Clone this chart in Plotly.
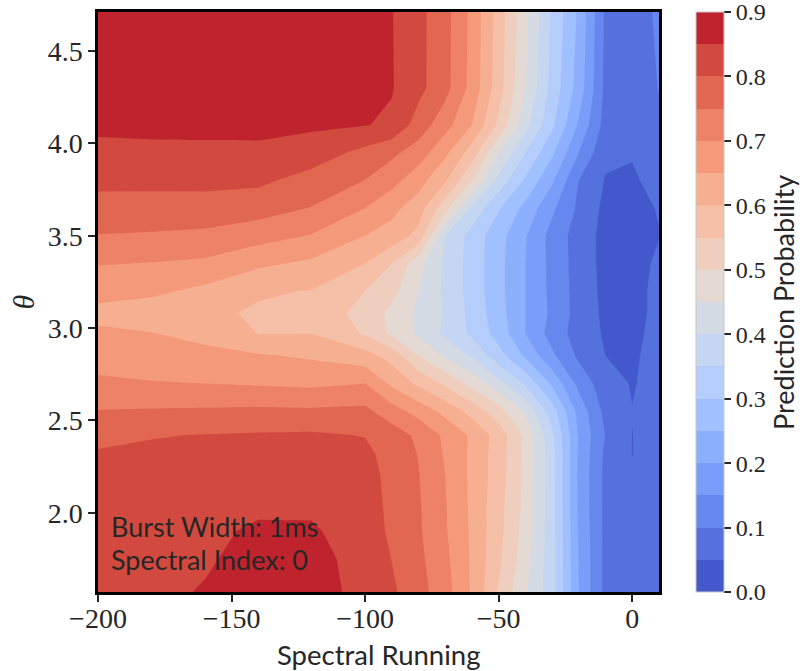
import numpy as np
import plotly.graph_objects as go

# Grid of the classifier scan
spectral_running = [-200, -180, -160, -140, -120, -100, -90, -80, -70, -60, -50, -40, -30, -20, -10, 0, 10]
theta = [1.571, 1.75, 1.9, 2.05, 2.2, 2.32, 2.42, 2.55, 2.7, 2.85, 2.97, 3.08,
         3.2, 3.35, 3.5, 3.65, 3.8, 3.95, 4.1, 4.3, 4.712]

# Prediction probability, one list per theta row (columns follow spectral_running)
p_1571 = [0.830, 0.840, 0.853, 0.870, 0.870, 0.835, 0.808, 0.769, 0.720, 0.644, 0.545, 0.456, 0.370, 0.200, 0.085, 0.065, 0.070]
p_1750 = [0.828, 0.837, 0.845, 0.865, 0.865, 0.833, 0.799, 0.762, 0.712, 0.643, 0.560, 0.470, 0.370, 0.198, 0.086, 0.064, 0.070]
p_1900 = [0.826, 0.833, 0.840, 0.857, 0.855, 0.830, 0.790, 0.757, 0.705, 0.642, 0.565, 0.480, 0.370, 0.195, 0.087, 0.062, 0.070]
p_2050 = [0.822, 0.827, 0.833, 0.840, 0.842, 0.825, 0.787, 0.755, 0.703, 0.640, 0.568, 0.485, 0.370, 0.190, 0.087, 0.058, 0.070]
p_2200 = [0.815, 0.820, 0.825, 0.825, 0.830, 0.820, 0.785, 0.752, 0.700, 0.639, 0.574, 0.488, 0.370, 0.190, 0.088, 0.054, 0.069]
p_2320 = [0.805, 0.810, 0.815, 0.815, 0.820, 0.812, 0.780, 0.748, 0.695, 0.640, 0.574, 0.489, 0.370, 0.192, 0.090, 0.0495, 0.068]
p_2420 = [0.785, 0.797, 0.802, 0.805, 0.807, 0.798, 0.775, 0.740, 0.690, 0.642, 0.579, 0.490, 0.360, 0.195, 0.098, 0.0495, 0.068]
p_2550 = [0.752, 0.755, 0.757, 0.760, 0.758, 0.762, 0.722, 0.681, 0.635, 0.582, 0.521, 0.440, 0.325, 0.183, 0.085, 0.051, 0.068]
p_2700 = [0.709, 0.703, 0.700, 0.695, 0.690, 0.700, 0.640, 0.590, 0.540, 0.483, 0.417, 0.342, 0.240, 0.135, 0.070, 0.047, 0.065]
p_2850 = [0.680, 0.674, 0.665, 0.655, 0.643, 0.620, 0.580, 0.500, 0.440, 0.393, 0.320, 0.242, 0.160, 0.090, 0.050, 0.045, 0.062]
p_2970 = [0.660, 0.652, 0.635, 0.599, 0.600, 0.545, 0.490, 0.440, 0.390, 0.340, 0.280, 0.200, 0.130, 0.078, 0.044, 0.042, 0.060]
p_3080 = [0.635, 0.625, 0.610, 0.594, 0.578, 0.535, 0.485, 0.440, 0.395, 0.335, 0.270, 0.200, 0.140, 0.080, 0.040, 0.040, 0.058]
p_3200 = [0.668, 0.660, 0.638, 0.605, 0.598, 0.550, 0.515, 0.450, 0.390, 0.330, 0.265, 0.200, 0.137, 0.080, 0.037, 0.040, 0.058]
p_3350 = [0.703, 0.698, 0.690, 0.660, 0.640, 0.600, 0.550, 0.467, 0.390, 0.330, 0.265, 0.200, 0.135, 0.078, 0.035, 0.037, 0.056]
p_3500 = [0.748, 0.745, 0.740, 0.720, 0.697, 0.650, 0.630, 0.585, 0.400, 0.330, 0.269, 0.204, 0.133, 0.077, 0.035, 0.038, 0.049]
p_3650 = [0.782, 0.780, 0.778, 0.772, 0.748, 0.700, 0.665, 0.624, 0.517, 0.390, 0.305, 0.235, 0.160, 0.090, 0.038, 0.040, 0.052]
p_3800 = [0.812, 0.813, 0.815, 0.810, 0.781, 0.749, 0.717, 0.670, 0.607, 0.500, 0.383, 0.292, 0.208, 0.100, 0.047, 0.046, 0.060]
p_3950 = [0.837, 0.840, 0.840, 0.840, 0.826, 0.786, 0.761, 0.726, 0.661, 0.575, 0.450, 0.350, 0.259, 0.150, 0.060, 0.052, 0.075]
p_4100 = [0.860, 0.861, 0.862, 0.863, 0.858, 0.852, 0.842, 0.778, 0.719, 0.650, 0.538, 0.417, 0.311, 0.193, 0.080, 0.058, 0.090]
p_4300 = [0.876, 0.877, 0.877, 0.877, 0.875, 0.870, 0.853, 0.814, 0.766, 0.683, 0.572, 0.450, 0.333, 0.228, 0.088, 0.068, 0.102]
p_4712 = [0.885, 0.885, 0.885, 0.885, 0.885, 0.878, 0.852, 0.814, 0.767, 0.687, 0.577, 0.462, 0.343, 0.241, 0.090, 0.070, 0.110]

prob = [p_1571, p_1750, p_1900, p_2050, p_2200, p_2320, p_2420, p_2550, p_2700, p_2850,
        p_2970, p_3080, p_3200, p_3350, p_3500, p_3650, p_3800, p_3950, p_4100, p_4300, p_4712]

cbar_ticks = [0.0, 0.1, 0.2, 0.3, 0.4, 0.5, 0.6, 0.7, 0.8, 0.9]
x_ticks = [-200, -150, -100, -50, 0]
y_ticks = [2.0, 2.5, 3.0, 3.5, 4.0, 4.5]
info_lines = ["Burst Width: 1ms", "Spectral Index: 0"]

# coolwarm diverging map (control points at 33 evenly spaced positions)
CW_R = [0.2298, 0.2662, 0.3039, 0.3428, 0.3830, 0.4244, 0.4667, 0.5096, 0.5530, 0.5963, 0.6392,
        0.6813, 0.7222, 0.7615, 0.7987, 0.8335, 0.8654, 0.8978, 0.9241, 0.9445, 0.9589, 0.9673,
        0.9700, 0.9668, 0.9580, 0.9437, 0.9239, 0.8990, 0.8692, 0.8346, 0.7956, 0.7525, 0.7057]
CW_G = [0.2987, 0.3531, 0.4065, 0.4588, 0.5094, 0.5581, 0.6046, 0.6483, 0.6889, 0.7261, 0.7596,
        0.7890, 0.8140, 0.8343, 0.8498, 0.8602, 0.8654, 0.8489, 0.8274, 0.8009, 0.7698, 0.7341,
        0.6943, 0.6504, 0.6028, 0.5518, 0.4973, 0.4396, 0.3783, 0.3129, 0.2413, 0.1572, 0.0156]
CW_B = [0.7537, 0.8015, 0.8450, 0.8837, 0.9174, 0.9456, 0.9682, 0.9848, 0.9954, 0.9998, 0.9982,
        0.9904, 0.9766, 0.9569, 0.9317, 0.9011, 0.8654, 0.8209, 0.7745, 0.7267, 0.6780, 0.6288,
        0.5794, 0.5303, 0.4818, 0.4342, 0.3880, 0.3432, 0.3003, 0.2593, 0.2205, 0.1841, 0.1502]


def coolwarm(t):
    pos = np.linspace(0.0, 1.0, len(CW_R))
    r = np.interp(t, pos, CW_R)
    g = np.interp(t, pos, CW_G)
    b = np.interp(t, pos, CW_B)
    return "rgb({:d},{:d},{:d})".format(int(round(r * 255)), int(round(g * 255)), int(round(b * 255)))


levels = np.round(np.arange(0.0, 0.9001, 0.05), 4)
step = 0.05
mids = (levels[:-1] + levels[1:]) / 2
band_colors = [coolwarm(m / levels[-1]) for m in mids]
n_bands = len(band_colors)

# contour fill colours: band j is painted with colorscale position j/(n_bands-1)
contour_scale = [[j / (n_bands - 1), c] for j, c in enumerate(band_colors)]

# stepped scale for the colour bar (0 .. 0.9)
bar_scale = []
for j, c in enumerate(band_colors):
    bar_scale.append([j / n_bands, c])
    bar_scale.append([(j + 1) / n_bands, c])

TXT = "#262626"
SANS = "Lato"
SERIF = "Liberation Serif"

fig = go.Figure()
fig.add_trace(go.Contour(
    x=spectral_running, y=theta, z=prob,
    autocontour=False,
    contours=dict(start=levels[1], end=levels[-2], size=step, coloring="fill", showlines=False),
    line=dict(width=0, smoothing=0),
    colorscale=contour_scale,
    showscale=False,
    hoverinfo="skip",
))

fig.add_trace(go.Scatter(
    x=[spectral_running[0]], y=[theta[0]], mode="markers",
    marker=dict(
        size=1, opacity=0, color=[0.45], colorscale=bar_scale, cmin=levels[0], cmax=levels[-1],
        showscale=True,
        colorbar=dict(
            x=1.0660, xanchor="left", xpad=0, y=0.5, yanchor="middle", ypad=0,
            len=1, lenmode="fraction", thickness=28, thicknessmode="pixels",
            outlinewidth=1, outlinecolor="#c8c8c8",
            tickvals=cbar_ticks, ticktext=["{:.1f}".format(v) for v in cbar_ticks],
            ticks="outside", ticklen=7, tickwidth=1.5, tickcolor=TXT,
            ticklabeloverflow="allow",
            tickfont=dict(family=SERIF, size=24, color=TXT),
        ),
    ),
    hoverinfo="skip", showlegend=False,
))

# colour bar label, set vertically beside the tick labels
fig.add_annotation(
    x=1.2210, y=0.5, xref="paper", yref="paper", xanchor="center", yanchor="middle",
    text="Prediction Probability", textangle=-90, showarrow=False,
    font=dict(family=SANS, size=27, color=TXT),
)

# x-axis label below the tick labels
fig.add_annotation(
    x=0.5, y=-0.107, xref="paper", yref="paper", xanchor="center", yanchor="middle",
    text="Spectral Running", showarrow=False,
    font=dict(family=SANS, size=27.5, color=TXT),
)

# two-line caption in the lower-left corner of the panel
for line_text, ypos in zip(info_lines, [0.113, 0.056]):
    fig.add_annotation(
        x=0.019, y=ypos, xref="paper", yref="paper", xanchor="left", yanchor="middle",
        text=line_text, align="left", showarrow=False,
        font=dict(family=SANS, size=27, color=TXT),
    )

axis_common = dict(
    ticks="outside", ticklen=7, tickwidth=2, tickcolor=TXT,
    showline=True, linewidth=2.5, linecolor="black", mirror=True,
    showgrid=False, zeroline=False,
    tickfont=dict(family=SERIF, size=28, color=TXT),
)

fig.update_layout(
    width=800, height=671,
    margin=dict(l=98, r=141, t=12, b=79, autoexpand=False),
    paper_bgcolor="white", plot_bgcolor="white",
    xaxis=dict(range=[spectral_running[0], spectral_running[-1]], tickvals=x_ticks,
               ticklabelstandoff=-7, **axis_common),
    yaxis=dict(range=[theta[0], theta[-1]], tickvals=y_ticks, tickformat=".1f",
               title=dict(text="<i>θ</i>", standoff=5,
                          font=dict(family=SERIF, size=30, color=TXT)),
               **axis_common),
)

fig.write_html("out.html")
